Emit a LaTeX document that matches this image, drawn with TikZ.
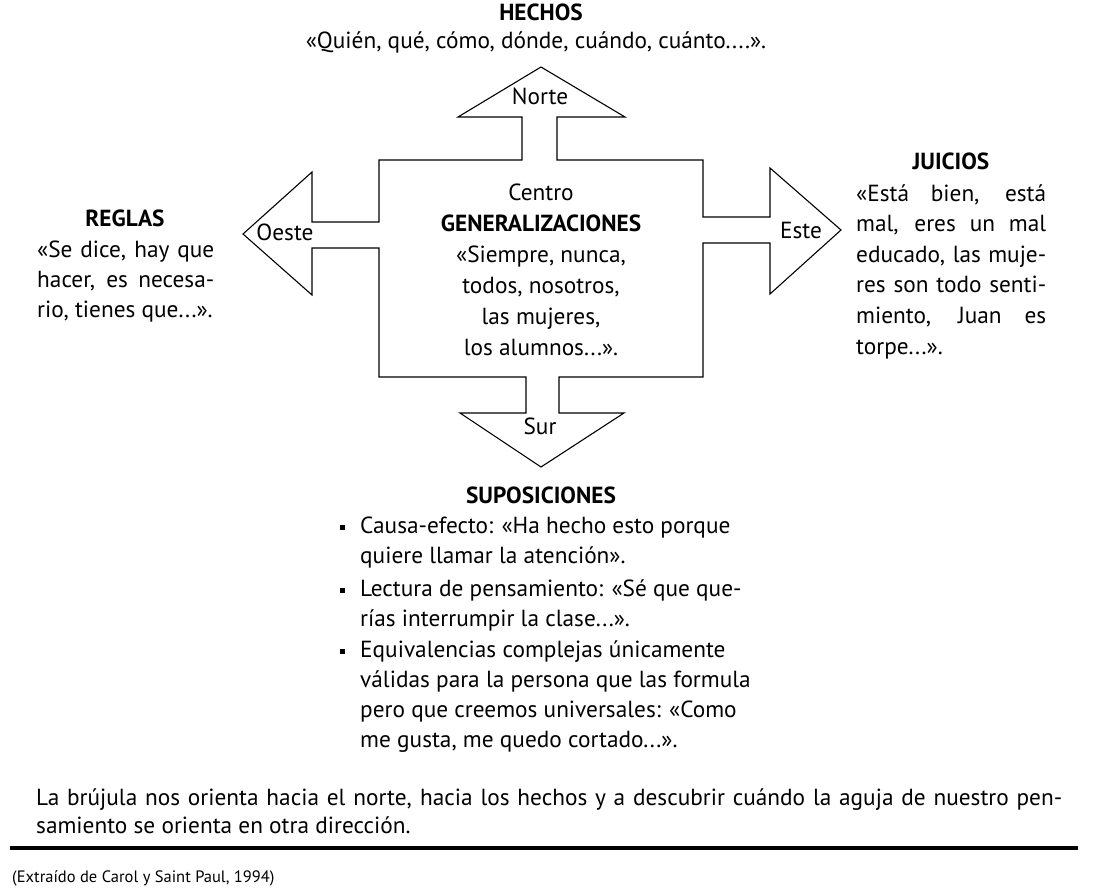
\documentclass[tikz,border=0pt]{standalone}
\usepackage{fontspec}
\setmainfont{PT Sans}
\begin{document}
\begin{tikzpicture}[x=1pt,y=-1pt,
  t/.style={inner sep=0pt, anchor=base, font=\fontsize{23.3}{28}\selectfont},
  tl/.style={t, anchor=base west},
  hd/.style={t, font=\fontsize{23.3}{28}\selectfont\bfseries},
  outline/.style={draw=black, line width=1.1pt, line join=miter},
  bullet/.style={fill=black}]
\useasboundingbox (0,0) rectangle (1119,893);
\fill[white] (0,0) rectangle (1119,893);

% compass outline
\draw[outline] (379,160) -- (522,160) -- (522,117) -- (458,117) -- (541,67) -- (625,117) -- (557,117) -- (557,160)
  -- (703,160) -- (703,217) -- (770,217) -- (770,168) -- (841,230) -- (770,294) -- (770,243) -- (703,243)
  -- (703,377) -- (559,377) -- (559,413) -- (624,413) -- (541,467) -- (460,413) -- (526,413) -- (526,377)
  -- (379,377) -- (379,248) -- (312,248) -- (312,295) -- (243,234) -- (312,172) -- (312,222) -- (379,222) -- cycle;

% direction labels
\node[t] (norte) at (540,105) {Norte};
\node[t] (oeste) at (285,241) {Oeste};
\node[t] (este) at (801,239) {Este};
\node[t] (sur) at (540,434) {Sur};

% top
\node[hd] (hechos) at (541,20.5) {HECHOS};
\node[t] (hechosq) at (536,49) {«Quién, qué, cómo, dónde, cuándo, cuánto....».};

% centre
\node[t] (c1) at (541,201) {Centro};
\node[hd] (c2) at (541,231.8) {GENERALIZACIONES};
\node[t] (c3) at (541,262.6) {«Siempre, nunca,};
\node[t] (c4) at (541,293.4) {todos, nosotros,};
\node[t] (c5) at (541,324.2) {las mujeres,};
\node[t] (c6) at (541,355) {los alumnos...».};

% west
\node[hd] (reglas) at (125,227) {REGLAS};
\node[tl] (r1) at (37,258) {\makebox[177pt][s]{«Se dice, hay que}};
\node[tl] (r2) at (37,288) {\makebox[177pt][s]{hacer, es necesa-}};
\node[tl] (r3) at (37,318) {rio, tienes que...».};

% east
\node[hd] (juicios) at (951,170) {JUICIOS};
\node[tl] (j1) at (856,201.5) {\makebox[190pt][s]{«Está bien, está}};
\node[tl] (j2) at (856,232) {\makebox[190pt][s]{mal, eres un mal}};
\node[tl] (j3) at (856,262.5) {\makebox[190pt][s]{educado, las muje-}};
\node[tl] (j4) at (856,293) {\makebox[190pt][s]{res son todo senti-}};
\node[tl] (j5) at (856,323.5) {\makebox[190pt][s]{miento, Juan es}};
\node[tl] (j6) at (856,354) {torpe...».};

% south
\node[hd] (supo) at (541,503.5) {SUPOSICIONES};
\node[tl] (s1) at (360,533) {Causa-efecto: «Ha hecho esto porque};
\node[tl] (s2) at (360,563) {quiere llamar la atención».};
\node[tl] (s3) at (360,596) {Lectura de pensamiento: «Sé que que-};
\node[tl] (s4) at (360,626) {rías interrumpir la clase...».};
\node[tl] (s5) at (360,657) {Equivalencias complejas únicamente};
\node[tl] (s6) at (360,687) {válidas para la persona que las formula};
\node[tl] (s7) at (360,717) {pero que creemos universales: «Como};
\node[tl] (s8) at (360,747) {me gusta, me quedo cortado...».};
\fill[bullet] (339.5,524.5) rectangle (344.5,529.5);
\fill[bullet] (339.5,587.5) rectangle (344.5,592.5);
\fill[bullet] (339.5,648.5) rectangle (344.5,653.5);

% bottom
\node[tl] (b1) at (36,805) {\makebox[1026pt][s]{La brújula nos orienta hacia el norte, hacia los hechos y a descubrir cuándo la aguja de nuestro pen-}};
\node[tl] (b2) at (36,833) {samiento se orienta en otra dirección.};
\draw[line width=4pt] (10,848) -- (1078,848);
\node[tl, font=\fontsize{16.5}{20}\selectfont] (src) at (12,882) {(Extraído de Carol y Saint Paul, 1994)};
\end{tikzpicture}
\end{document}
